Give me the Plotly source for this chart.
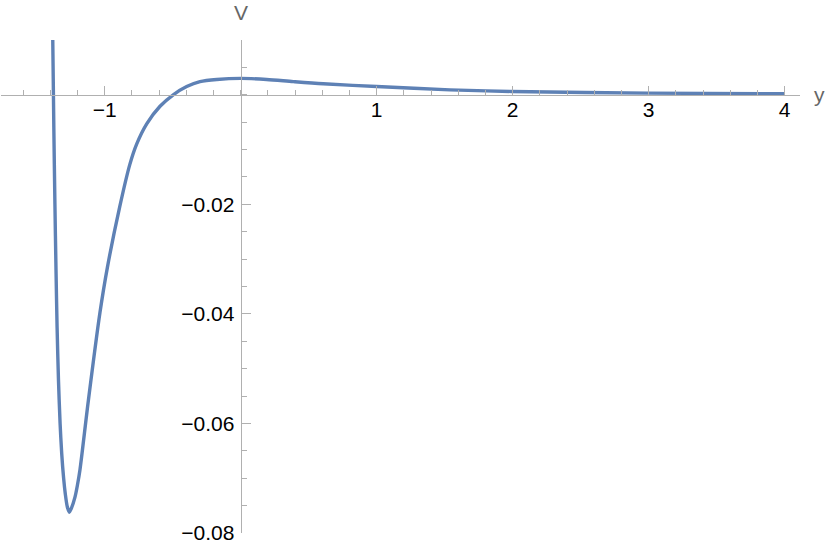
import plotly.graph_objects as go

# curve (y coordinate, potential V)
y_pos = [-1.382, -1.374, -1.366, -1.358, -1.350, -1.340, -1.328, -1.316, -1.302,
         -1.290, -1.275, -1.260, -1.245, -1.219, -1.200, -1.182, -1.121, -1.035,
         -0.980, -0.890, -0.815, -0.765, -0.691, -0.593, -0.496, -0.397, -0.299,
         -0.176, 0.0, 0.191, 0.387, 0.607, 1.0, 1.539, 1.993, 2.997, 4.0]
V_val = [0.0104, -0.0060, -0.0200, -0.0320, -0.0425, -0.0520, -0.0600, -0.0655, -0.0700,
         -0.0728, -0.0752, -0.0762, -0.0755, -0.0735, -0.0712, -0.0685, -0.0560, -0.0398,
         -0.0315, -0.0205, -0.0127, -0.0090, -0.0053, -0.0021, 0.0, 0.0015, 0.0024,
         0.0028, 0.0030, 0.0028, 0.0024, 0.0020, 0.0015, 0.0009, 0.0006, 0.0003, 0.00018]

x_ticks = [-1, 1, 2, 3, 4]
y_ticks = [-0.08, -0.06, -0.04, -0.02]

x_range = [-1.7625, 4.113]
y_range = [-0.08, 0.01]

axis_col = "#b0b0b0"
lab_col = "#666666"

fig = go.Figure()
fig.add_trace(go.Scatter(x=y_pos, y=V_val, mode="lines",
                         line=dict(color="#5E81B5", width=3.4, shape="spline", smoothing=0.8),
                         cliponaxis=False, hoverinfo="skip"))

fig.update_layout(
    width=830, height=547,
    margin=dict(l=1, r=30, t=40, b=14),
    plot_bgcolor="white", paper_bgcolor="white",
    showlegend=False,
    font=dict(family="Liberation Sans, Arial, sans-serif", size=21, color="black"),
    xaxis=dict(range=x_range, anchor="free",
               position=(0 - y_range[0]) / (y_range[1] - y_range[0]),
               showgrid=False, zeroline=False, showline=True, linecolor=axis_col, linewidth=1,
               tickvals=x_ticks, ticks="inside", ticklen=9, tickcolor=axis_col,
               minor=dict(dtick=0.2, tick0=0, ticks="inside", ticklen=5, tickcolor=axis_col),
               ticklabelstandoff=-4),
    yaxis=dict(range=y_range, anchor="free",
               position=(0 - x_range[0]) / (x_range[1] - x_range[0]),
               showgrid=False, zeroline=False, showline=True, linecolor=axis_col, linewidth=1,
               tickvals=y_ticks, ticks="inside", ticklen=9, tickcolor=axis_col,
               minor=dict(dtick=0.005, tick0=0, ticks="inside", ticklen=5, tickcolor=axis_col),
               ticklabelstandoff=2),
    annotations=[
        dict(text="V", x=0, xref="x", y=1, yref="paper", yanchor="bottom", yshift=14,
             showarrow=False, font=dict(size=21, color=lab_col)),
        dict(text="y", x=1, xref="paper", y=0, yref="y", xanchor="left", xshift=12,
             showarrow=False, font=dict(size=21, color=lab_col)),
    ],
)

# drop the page's default body margin so the figure sits at the window corner
fig.write_html("out.html", config={"displayModeBar": False},
               post_script="document.body.style.margin='0px';")
